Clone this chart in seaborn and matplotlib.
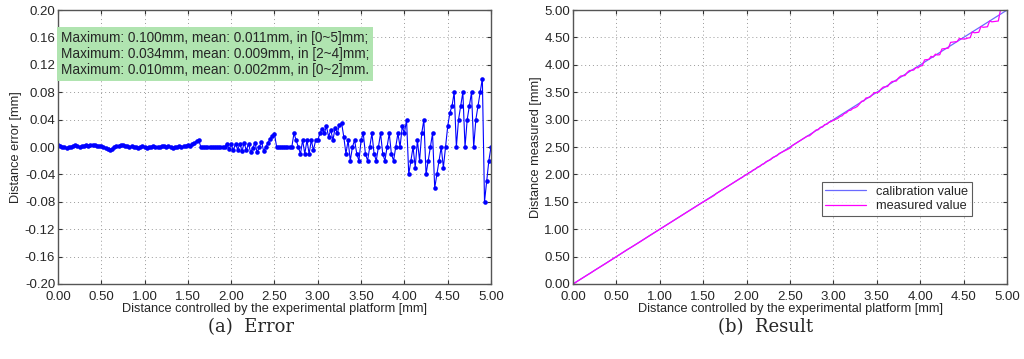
import matplotlib
matplotlib.use("Agg")
import matplotlib.pyplot as plt
import numpy as np
import pandas as pd
import seaborn as sns

sns.set_style("ticks")
plt.rcParams["font.family"] = ["Liberation Sans", "DejaVu Sans"]

# distance error, in micrometres,
# 4 samples per 0.1 mm (step 0.025 mm), one row per 0.1 mm
err_um = [
    3, 1, 0, 0,
    -1, 0, 0, 1,
    3, 1, 0, 1,
    2, 3, 2, 3,
    3, 3, 2, 2,
    1, 0, -1, -3,
    -5, -3, 0, 1,
    2, 3, 3, 2,
    1, 0, 1, 0,
    0, -1, 0, 1,
    0, -1, 0, 0,
    1, 0, 0, 0,
    1, 2, 0, 1,
    0, -1, 0, 0,
    1, 0, 1, 2,
    3, 2, 4, 6,
    9, 10, 0, 0,
    0, 0, 0, 0,
    0, 0, 0, 0,
    0, 0, 5, -3,
    4, -5, 5, -4,
    5, -6, 6, -5,
    5, -8, -1, 6,
    -8, 0, 8, -6,
    0, 6, 12, 16,
    19, 0, 0, 0,
    0, 0, 0, 0,
    0, 20, 10, 0,
    -10, 10, -10, 10,
    -10, 10, -5, 10,
    10, 20, 27, 20,
    30, 15, 25, 10,
    28, 20, 32, 35,
    15, -10, 10, -20,
    0, 10, -10, -20,
    10, 20, -10, -20,
    0, 20, -10, -20,
    0, 20, -10, -20,
    0, 20, -10, -20,
    0, 20, 0, 30,
    20, 40, -40, -20,
    0, -30, 10, -20,
    20, 40, -40, -20,
    0, 20, -60, -40,
    -20, 0, -30, 0,
    30, 50, 60, 80,
    0, 40, 60, 80,
    0, 40, 60, 80,
    0, 40, 60, 80,
    100, -80, -50, -20,
    0,
]

dist = np.linspace(0, 5, len(err_um))  # platform distance [mm]
err = np.array(err_um) / 1000.0        # error [mm]
measured = dist - err                  # measured distance [mm]

df_err = pd.DataFrame({"dist": dist, "err": err})
df_res = pd.DataFrame({"dist": dist, "calib": dist, "meas": measured})

box_text = ("Maximum: 0.100mm, mean: 0.011mm, in [0~5]mm;\n"
            "Maximum: 0.034mm, mean: 0.009mm, in [2~4]mm;\n"
            "Maximum: 0.010mm, mean: 0.002mm, in [0~2]mm.")

fig = plt.figure(figsize=(10.24, 3.59), dpi=100)
ax1 = fig.add_axes([0.0566, 0.209, 0.4229, 0.763])
ax2 = fig.add_axes([0.5596, 0.209, 0.4238, 0.763])

sns.lineplot(data=df_err, x="dist", y="err", ax=ax1, color="#0000ff",
             linewidth=0.8, marker="o", markersize=3.3, markeredgewidth=0,
             errorbar=None)

sns.lineplot(data=df_res, x="dist", y="calib", ax=ax2, color="#6a6aff",
             linewidth=0.9, errorbar=None, label="calibration value")
sns.lineplot(data=df_res, x="dist", y="meas", ax=ax2, color="#ff00ff",
             linewidth=0.9, errorbar=None, label="measured value")

for ax in (ax1, ax2):
    ax.set_xlim(0, 5)
    ax.set_xticks(np.arange(0, 5.01, 0.5))
    ax.xaxis.set_major_formatter(matplotlib.ticker.FormatStrFormatter("%.2f"))
    ax.yaxis.set_major_formatter(matplotlib.ticker.FormatStrFormatter("%.2f"))
    ax.grid(True, linestyle=(0, (1, 3)), color="#999999", linewidth=0.7)
    ax.tick_params(direction="in", top=True, right=True, labelsize=9.5,
                   length=3, color="#333333", pad=2)
    ax.tick_params(axis="x", pad=5)
    for s in ax.spines.values():
        s.set_color("#555555")
        s.set_linewidth(1.0)
    ax.set_xlabel("Distance controlled by the experimental platform [mm]",
                  fontsize=9.2, labelpad=0)

ax1.set_ylim(-0.2, 0.2)
ax1.set_yticks(np.arange(-0.2, 0.201, 0.04))
ax1.set_ylabel("Distance error [mm]", fontsize=9.2, labelpad=2)
ax1.text(0.006, 0.925, box_text, transform=ax1.transAxes, fontsize=9.8,
         va="top", ha="left", linespacing=1.2,
         bbox=dict(boxstyle="square,pad=0.28", facecolor="#b0e4b0",
                   edgecolor="none"))

ax2.set_ylim(0, 5)
ax2.set_yticks(np.arange(0, 5.01, 0.5))
ax2.set_ylabel("Distance measured [mm]", fontsize=9.2, labelpad=2)
leg = ax2.legend(loc="lower right", bbox_to_anchor=(0.935, 0.225), fontsize=9.2,
                 frameon=True, fancybox=False, borderpad=0.3,
                 handlelength=3.2, labelspacing=0.2)
leg.get_frame().set_edgecolor("#333333")
leg.get_frame().set_linewidth(0.8)

fig.text(0.245, 0.088, "(a)  Error", fontsize=13, family="DejaVu Serif",
         ha="center", va="center")
fig.text(0.748, 0.088, "(b)  Result", fontsize=13, family="DejaVu Serif",
         ha="center", va="center")

fig.savefig("out.png", dpi=100)
